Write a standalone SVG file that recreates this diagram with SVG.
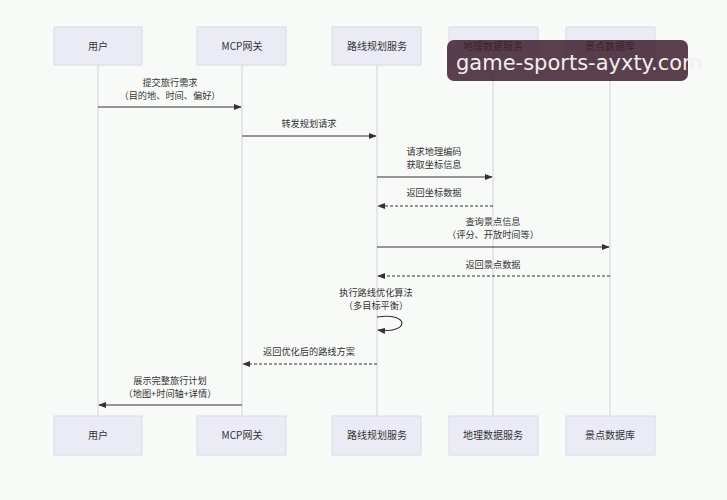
<svg xmlns="http://www.w3.org/2000/svg" width="727" height="500" viewBox="0 0 727 500">
<style>
text{font-family:"Noto Sans CJK SC","Noto Sans",sans-serif;font-size:10px;fill:#333;text-anchor:middle}
.lbl{font-size:9.2px}
.box{fill:#ebebf6;stroke:#d9d9e8;stroke-width:1}
.life{stroke:#d2d2d8;stroke-width:1}
.msg{stroke:#333;stroke-width:1.2;fill:none}
.dash{stroke-dasharray:3,2}
.wm{font-family:"DejaVu Sans","Noto Sans",sans-serif;font-size:21px;fill:#f2eef0;text-anchor:start}
</style>
<defs>
<marker id="ah" viewBox="0 0 10 10" refX="9" refY="5" markerWidth="8" markerHeight="8" orient="auto-start-reverse" markerUnits="userSpaceOnUse">
<path d="M0,1 L10,5 L0,9 z" fill="#333"/>
</marker>
</defs>
<rect width="727" height="500" fill="#f8faf8"/>
<g id="lifelines">
<line class="life" x1="98" y1="65" x2="98" y2="416"/>
<line class="life" x1="242" y1="65" x2="242" y2="416"/>
<line class="life" x1="377" y1="65" x2="377" y2="416"/>
<line class="life" x1="493" y1="65" x2="493" y2="416"/>
<line class="life" x1="610" y1="65" x2="610" y2="416"/>
</g>
<g id="user">
<rect class="box" x="54" y="27" width="88" height="38"/><text x="98" y="50">用户</text>
<rect class="box" x="54" y="416" width="88" height="39"/><text x="98" y="439">用户</text>
</g>
<g id="gateway">
<rect class="box" x="197" y="27" width="89" height="38"/><text x="242" y="50">MCP网关</text>
<rect class="box" x="197" y="416" width="89" height="39"/><text x="242" y="439">MCP网关</text>
</g>
<g id="planner">
<rect class="box" x="332" y="27" width="89" height="38"/><text x="377" y="50">路线规划服务</text>
<rect class="box" x="332" y="416" width="89" height="39"/><text x="377" y="439">路线规划服务</text>
</g>
<g id="geo">
<rect class="box" x="449" y="27" width="89" height="38"/><text x="493" y="50">地理数据服务</text>
<rect class="box" x="449" y="416" width="89" height="39"/><text x="493" y="439">地理数据服务</text>
</g>
<g id="poi">
<rect class="box" x="566" y="27" width="89" height="38"/><text x="610" y="50">景点数据库</text>
<rect class="box" x="566" y="416" width="89" height="39"/><text x="610" y="439">景点数据库</text>
</g>
<g id="connectors">
<text class="lbl" x="170" y="86">提交旅行需求<tspan x="170" dy="13.4">（目的地、时间、偏好）</tspan></text>
<line class="msg" x1="98" y1="107" x2="241" y2="107" marker-end="url(#ah)"/>
<text class="lbl" x="309" y="127">转发规划请求</text>
<line class="msg" x1="242" y1="136" x2="376" y2="136" marker-end="url(#ah)"/>
<text class="lbl" x="434" y="155">请求地理编码<tspan x="434" dy="13.4">获取坐标信息</tspan></text>
<line class="msg" x1="377" y1="177" x2="492" y2="177" marker-end="url(#ah)"/>
<text class="lbl" x="434" y="196">返回坐标数据</text>
<line class="msg dash" x1="493" y1="206" x2="378" y2="206" marker-end="url(#ah)"/>
<text class="lbl" x="493" y="225">查询景点信息<tspan x="493" dy="13.4">（评分、开放时间等）</tspan></text>
<line class="msg" x1="377" y1="247" x2="609" y2="247" marker-end="url(#ah)"/>
<text class="lbl" x="493" y="268">返回景点数据</text>
<line class="msg dash" x1="610" y1="276" x2="378" y2="276" marker-end="url(#ah)"/>
<text class="lbl" x="376" y="296">执行路线优化算法<tspan x="376" dy="13.4">（多目标平衡）</tspan></text>
<path class="msg" d="M377,317 C410,312 410,334 378,330" marker-end="url(#ah)"/>
<text class="lbl" x="309" y="355">返回优化后的路线方案</text>
<line class="msg dash" x1="377" y1="364" x2="243" y2="364" marker-end="url(#ah)"/>
<text class="lbl" x="170" y="384">展示完整旅行计划<tspan x="170" dy="13.4">（地图+时间轴+详情）</tspan></text>
<line class="msg" x1="242" y1="405" x2="99" y2="405" marker-end="url(#ah)"/>
</g>
<g id="watermark">
<rect x="447" y="40" width="241" height="41" rx="7" fill="#3e1f2e" fill-opacity="0.85"/>
<text class="wm" x="456" y="70">game-sports-ayxty.com</text>
</g>
</svg>
